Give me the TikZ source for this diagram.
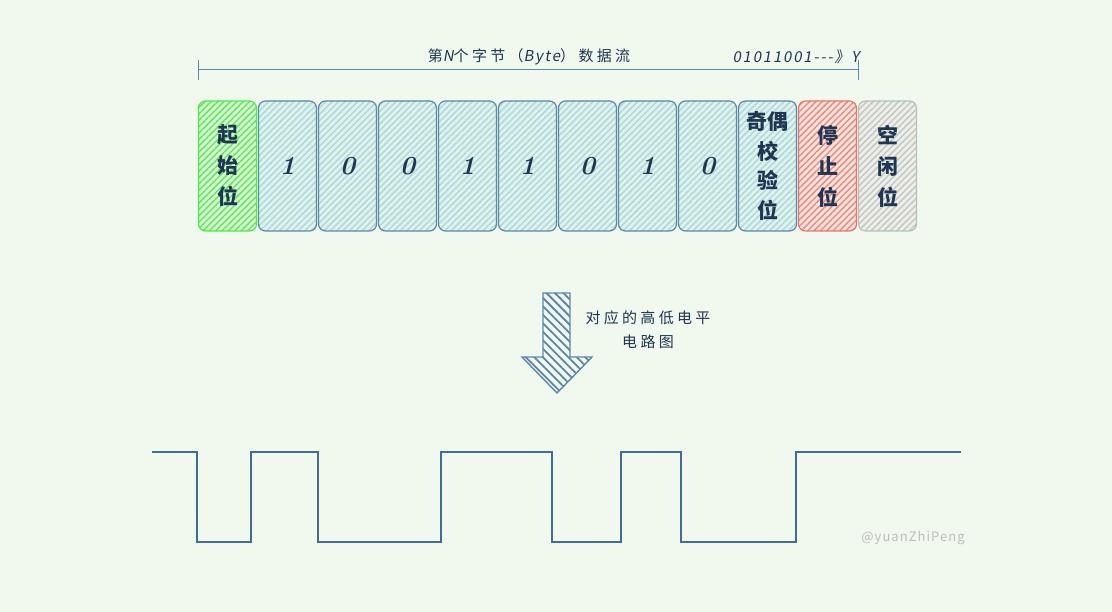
\documentclass[tikz,border=0pt]{standalone}
\usepackage{fontspec}
\newfontfamily\cjk{Noto Sans CJK SC}
\newfontfamily\cjkslant[FakeSlant=0.18]{Noto Sans CJK SC}
\newfontfamily\cjkwide[LetterSpace=22]{Noto Sans CJK SC}
\newfontfamily\latwide[FakeSlant=0.18,LetterSpace=12]{Noto Sans CJK SC}
\newfontfamily\marksans[LetterSpace=8]{Noto Sans CJK SC}
\usetikzlibrary{positioning,patterns.meta}
\definecolor{bg}{HTML}{F1F9EE}
\definecolor{ink}{HTML}{1E3553}
\definecolor{cellline}{HTML}{5C88AA}
\definecolor{cellfill}{HTML}{E0F2EE}
\definecolor{cellhatch}{HTML}{AED9D9}
\definecolor{startline}{HTML}{48EC48}
\definecolor{startfill}{HTML}{DDF8D8}
\definecolor{starthatch}{HTML}{5CEC58}
\definecolor{stopline}{HTML}{E8746C}
\definecolor{stopfill}{HTML}{F7E6DD}
\definecolor{stophatch}{HTML}{F08A82}
\definecolor{idleline}{HTML}{BDBDBD}
\definecolor{idlefill}{HTML}{EDEFEA}
\definecolor{idlehatch}{HTML}{C6C6C3}
\definecolor{wavecol}{HTML}{3E6E96}
\tikzset{
  bit/.style={draw=cellline, line width=1.2pt, rounded corners=7pt,
    minimum width=58pt, minimum height=130pt, inner sep=0pt, align=center,
    preaction={fill=cellfill},
    pattern={Lines[angle=45,distance=4.5pt,line width=1.5pt]}, pattern color=cellhatch,
    font=\bfseries\itshape\fontsize{26}{30}\selectfont, text=ink},
  hanzi/.style={font=\cjk\bfseries\fontsize{21}{31}\selectfont},
  startbit/.style={bit, hanzi, draw=startline, preaction={fill=startfill}, pattern color=starthatch},
  stopbit/.style={bit, hanzi, draw=stopline, preaction={fill=stopfill}, pattern color=stophatch},
  idlebit/.style={bit, hanzi, draw=idleline, preaction={fill=idlefill}, pattern color=idlehatch},
  label/.style={font=\cjkwide\fontsize{15}{18}\selectfont, text=ink},
}
\begin{document}
\begin{tikzpicture}[x=1pt,y=-1pt]
	\fill[bg] (0,0) rectangle (1112,612);
	% frame of one byte
	\node[label] (head) at (529,57) {第{\latwide N}个字节（{\latwide Byte}）数据流};
	\node[label, font=\latwide\fontsize{15}{18}\selectfont] (stream) at (796,57) {01011001---》Y};
	\coordinate (l) at (198,70);
	\coordinate (r) at (858,70);
	\draw[cellline, line width=1pt] (l) -- (r);
	\draw[cellline, line width=1pt] ([yshift=-10pt]l) -- ([yshift=10pt]l);
	\draw[cellline, line width=1pt] ([yshift=-10pt]r) -- ([yshift=10pt]r);
	% the bits
	\node[startbit] (start) at (227.5,166) {起\\始\\位};
	\foreach \b [count=\i] in {1,0,0,1,1,0,1,0}
		\node[bit] (d\i) at ({227.5+60*\i},166) {\b};
	\node[bit, hanzi, font=\cjk\bfseries\fontsize{21}{29.5}\selectfont] (parity) at (767.5,166) {奇偶\\校\\验\\位};
	\node[stopbit] (stop) at (827.5,166) {停\\止\\位};
	\node[idlebit] (idle) at (887.5,166) {空\\闲\\位};
	% arrow down to the levels
	\draw[cellline, line width=1.4pt, preaction={fill=bg},
		pattern={Lines[angle=-45,distance=6pt,line width=1.8pt]}, pattern color=wavecol!85]
		(543,293) -- (570,293) -- (570,357) -- (592,357) -- (557,393) -- (522,357) -- (543,357) -- cycle;
	\node[label, align=center, font=\cjkwide\fontsize{15}{24}\selectfont] (note) at (648,330) {对应的高低电平\\电路图};
	% signal levels
	\draw[wavecol, line width=1.6pt] (152,452) -| (197,542) -| (251,452) -| (318,542) -| (441,452)
		-| (552,542) -| (621,452) -| (681,542) -| (796,452) -- (961,452);
	\node[text=idleline, font=\marksans\fontsize{13}{15}\selectfont] (mark) at (913,538) {@yuanZhiPeng};
\end{tikzpicture}
\end{document}
